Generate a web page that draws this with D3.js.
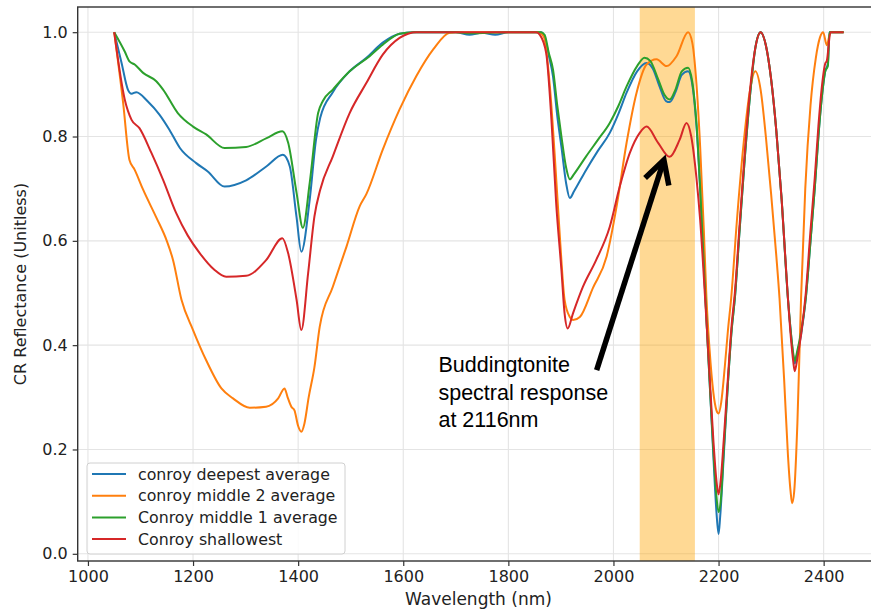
<!DOCTYPE html>
<html>
<head>
<meta charset="utf-8">
<script src="https://cdn.jsdelivr.net/npm/d3@7"></script>
<style>
html,body{margin:0;padding:0;background:#fff;}
svg{display:block;}
</style>
</head>
<body>
<svg id="chart" width="871" height="609"></svg>
<script>
// ---------- DATA ----------
const seriesNames = ["conroy deepest average", "conroy middle 2 average", "Conroy middle 1 average", "Conroy shallowest"];
const seriesColors = ["#1f77b4", "#ff7f0e", "#2ca02c", "#d62728"];

const deepestNm = [1050,1064,1076,1083,1092,1114,1136,1155,1175,1206,1228,1260,1301,1340,1371,1384,1397,1406,1422,1434,1442,1466,1498,1530,1561,1593,1620,1700,1726,1750,1775,1800,1862,1869,1877,1885,1893,1901,1910,1917,1925,1948,1970,1993,2010,2025,2045,2063,2075,2088,2100,2107,2118,2130,2142,2150,2158,2165,2175,2183,2190,2196,2200,2203,2210,2218,2225,2231,2240,2250,2260,2270,2280,2290,2300,2310,2320,2332,2338,2342,2345,2350,2357,2366,2375,2383,2390,2396,2403,2408,2411,2438];
const deepestR  = [1.0,0.941,0.890,0.882,0.885,0.867,0.842,0.813,0.778,0.749,0.733,0.704,0.716,0.743,0.765,0.743,0.645,0.579,0.679,0.794,0.836,0.885,0.925,0.951,0.980,0.997,1.0,1.0,0.995,0.999,0.995,1.0,1.0,0.99,0.955,0.915,0.84,0.78,0.71,0.682,0.695,0.736,0.772,0.807,0.845,0.884,0.925,0.941,0.93,0.895,0.868,0.866,0.885,0.918,0.925,0.90,0.82,0.70,0.49,0.33,0.19,0.08,0.038,0.07,0.19,0.33,0.43,0.49,0.62,0.76,0.88,0.97,1.0,0.975,0.91,0.81,0.68,0.49,0.42,0.38,0.365,0.385,0.42,0.49,0.60,0.70,0.80,0.87,0.925,0.94,1.0,1.0];

const middle2Nm = [1050,1067,1079,1089,1105,1130,1150,1162,1178,1200,1225,1254,1276,1308,1339,1362,1374,1380,1387,1393,1400,1406,1412,1420,1431,1441,1466,1492,1517,1530,1561,1593,1625,1657,1688,1700,1858,1868,1879,1888,1898,1907,1917,1923,1936,1961,1987,2006,2025,2044,2063,2082,2101,2120,2142,2150,2158,2165,2172,2177,2183,2190,2196,2200,2205,2212,2218,2224,2235,2248,2260,2270,2280,2290,2300,2310,2316,2325,2332,2337,2340,2344,2350,2357,2365,2375,2385,2393,2399,2406,2413,2438];
const middle2R  = [1.0,0.864,0.755,0.736,0.698,0.645,0.60,0.563,0.487,0.429,0.371,0.317,0.298,0.280,0.282,0.298,0.317,0.30,0.282,0.275,0.245,0.234,0.25,0.30,0.358,0.435,0.512,0.589,0.666,0.690,0.775,0.852,0.916,0.967,0.999,1.0,1.0,0.99,0.896,0.768,0.608,0.487,0.454,0.448,0.454,0.510,0.570,0.666,0.788,0.884,0.938,0.948,0.935,0.954,1.0,0.98,0.90,0.78,0.62,0.49,0.39,0.31,0.275,0.269,0.29,0.36,0.43,0.49,0.64,0.79,0.89,0.925,0.89,0.80,0.69,0.57,0.49,0.33,0.19,0.12,0.097,0.12,0.25,0.49,0.70,0.86,0.95,0.99,1.0,0.975,1.0,1.0];

const middle1Nm = [1050,1070,1079,1089,1105,1130,1143,1171,1200,1225,1260,1301,1340,1370,1381,1397,1409,1422,1438,1447,1466,1498,1536,1561,1593,1620,1700,1726,1800,1862,1869,1877,1885,1893,1901,1910,1917,1925,1948,1970,1993,2010,2025,2045,2059,2070,2085,2097,2107,2118,2130,2142,2150,2158,2165,2175,2183,2190,2196,2200,2204,2210,2218,2225,2231,2240,2250,2260,2270,2280,2290,2300,2310,2320,2332,2338,2342,2345,2350,2357,2366,2375,2383,2390,2396,2403,2408,2411,2438];
const middle1R  = [1.0,0.963,0.944,0.938,0.922,0.906,0.890,0.845,0.819,0.804,0.778,0.780,0.797,0.810,0.788,0.692,0.625,0.711,0.845,0.868,0.890,0.925,0.954,0.976,0.997,1.0,1.0,0.998,1.0,1.0,0.995,0.96,0.928,0.86,0.80,0.74,0.718,0.728,0.762,0.793,0.826,0.860,0.896,0.935,0.951,0.945,0.91,0.88,0.871,0.89,0.925,0.932,0.905,0.825,0.70,0.49,0.33,0.20,0.11,0.08,0.10,0.20,0.33,0.43,0.49,0.62,0.76,0.88,0.97,1.0,0.975,0.91,0.81,0.68,0.49,0.42,0.385,0.37,0.39,0.425,0.49,0.60,0.70,0.80,0.87,0.925,0.935,1.0,1.0];

const shallowNm = [1050,1070,1083,1098,1121,1143,1168,1190,1213,1240,1263,1301,1339,1370,1381,1397,1406,1419,1431,1442,1466,1498,1530,1561,1593,1625,1853,1860,1872,1882,1891,1901,1907,1913,1923,1942,1967,1993,2012,2031,2050,2063,2085,2107,2126,2139,2148,2158,2165,2175,2183,2190,2196,2200,2204,2210,2218,2225,2231,2240,2250,2260,2270,2280,2290,2300,2310,2320,2332,2338,2342,2345,2350,2357,2366,2375,2383,2390,2396,2403,2406,2413,2438];
const shallowR  = [1.0,0.871,0.832,0.816,0.768,0.717,0.653,0.61,0.576,0.545,0.531,0.533,0.563,0.605,0.576,0.487,0.429,0.538,0.647,0.698,0.762,0.845,0.903,0.957,0.989,1.0,1.0,0.995,0.96,0.832,0.672,0.544,0.461,0.432,0.461,0.512,0.563,0.627,0.704,0.768,0.807,0.819,0.788,0.761,0.794,0.826,0.80,0.72,0.64,0.48,0.34,0.22,0.14,0.114,0.14,0.22,0.34,0.44,0.50,0.63,0.77,0.89,0.97,1.0,0.975,0.91,0.81,0.68,0.49,0.41,0.37,0.35,0.375,0.42,0.50,0.62,0.72,0.82,0.89,0.94,0.945,1.0,1.0];

const xTicks = [1000, 1200, 1400, 1600, 1800, 2000, 2200, 2400];
const yTicks = [0.0, 0.2, 0.4, 0.6, 0.8, 1.0];
const bandRange = [2050, 2155];
const annotationLines = ["Buddingtonite", "spectral response", "at 2116nm"];
const annotationTextAt = [1667, 0.348];
const arrowTail = [1968, 0.352];
const arrowTip = [2096, 0.755];

// ---------- LAYOUT ----------
const svg = d3.select("#chart");
const plot = {left: 77.7, right: 881.2, top: 7, bottom: 561};
const x = d3.scaleLinear().domain([980.5, 2509.5]).range([plot.left, plot.right]);
const y = d3.scaleLinear().domain([-0.0138, 1.0483]).range([plot.bottom, plot.top]);
const font = "'DejaVu Sans', sans-serif";

// grid
const grid = svg.append("g");
grid.selectAll(".gx").data(xTicks).enter().append("line")
  .attr("x1", d => x(d)).attr("x2", d => x(d))
  .attr("y1", plot.top).attr("y2", plot.bottom)
  .attr("stroke", "#e4e4e4").attr("stroke-width", 1.1);
grid.selectAll(".gy").data(yTicks).enter().append("line")
  .attr("x1", plot.left).attr("x2", plot.right)
  .attr("y1", d => y(d)).attr("y2", d => y(d))
  .attr("stroke", "#e4e4e4").attr("stroke-width", 1.1);

// shaded band
svg.append("rect")
  .attr("x", x(bandRange[0])).attr("width", x(bandRange[1]) - x(bandRange[0]))
  .attr("y", plot.top).attr("height", plot.bottom - plot.top)
  .attr("fill", "#ffa500").attr("fill-opacity", 0.42);

// lines
const series = [
  {nm: deepestNm, r: deepestR},
  {nm: middle2Nm, r: middle2R},
  {nm: middle1Nm, r: middle1R},
  {nm: shallowNm, r: shallowR}
];
const line = d3.line().x(d => x(d[0])).y(d => y(d[1])).curve(d3.curveMonotoneX);
series.forEach((s, i) => {
  const pts = s.nm.map((n, k) => [n, s.r[k]]);
  svg.append("path").datum(pts)
    .attr("d", line)
    .attr("fill", "none")
    .attr("stroke", seriesColors[i])
    .attr("stroke-width", 2)
    .attr("stroke-linejoin", "round");
});

// axes
const xAxis = d3.axisBottom(x).tickValues(xTicks).tickSize(5).tickPadding(5).tickFormat(d3.format("d"));
const yAxis = d3.axisLeft(y).tickValues(yTicks).tickSize(5).tickPadding(5).tickFormat(d3.format(".1f"));
const gx = svg.append("g").attr("transform", `translate(0,${plot.bottom})`).call(xAxis);
const gy = svg.append("g").attr("transform", `translate(${plot.left},0)`).call(yAxis);
[gx, gy].forEach(g => {
  g.select(".domain").remove();
  g.selectAll(".tick line").attr("stroke", "#333").attr("stroke-width", 1.2);
  g.selectAll(".tick text").attr("fill", "#222").style("font-family", font).style("font-size", "16px");
});

// frame
svg.append("rect")
  .attr("x", plot.left).attr("y", plot.top)
  .attr("width", plot.right - plot.left).attr("height", plot.bottom - plot.top)
  .attr("fill", "none").attr("stroke", "#333").attr("stroke-width", 1.4);

// axis labels
svg.append("text").attr("x", (plot.left + plot.right) / 2 - 1).attr("y", 605)
  .attr("text-anchor", "middle").style("font-family", font).style("font-size", "17px").attr("fill", "#222")
  .text("Wavelength (nm)");
svg.append("text").attr("transform", `translate(26,${(plot.top + plot.bottom) / 2}) rotate(-90)`)
  .attr("text-anchor", "middle").style("font-family", font).style("font-size", "16px").attr("fill", "#222")
  .text("CR Reflectance (Unitless)");

// legend
const lg = svg.append("g").attr("transform", "translate(87,463)");
lg.append("rect").attr("width", 258).attr("height", 91).attr("rx", 3)
  .attr("fill", "#fff").attr("fill-opacity", 0.85).attr("stroke", "#d0d0d0");
seriesNames.forEach((name, i) => {
  const yy = 11 + i * 21.7;
  lg.append("line").attr("x1", 5).attr("x2", 39).attr("y1", yy).attr("y2", yy)
    .attr("stroke", seriesColors[i]).attr("stroke-width", 2);
  lg.append("text").attr("x", 51).attr("y", yy).attr("dy", "0.35em")
    .style("font-family", font).style("font-size", "15.8px").attr("fill", "#222").text(name);
});

// annotation
const ann = svg.append("text").style("font-family", "'Liberation Sans', Arial, sans-serif")
  .style("font-size", "21.5px").attr("fill", "#000");
annotationLines.forEach((t, i) => {
  ann.append("tspan").attr("x", x(annotationTextAt[0])).attr("y", y(annotationTextAt[1]) + i * 27.3).text(t);
});
const tx = x(arrowTip[0]), ty = y(arrowTip[1]);
const sx = x(arrowTail[0]), sy = y(arrowTail[1]);
const ang = Math.atan2(ty - sy, tx - sx);
const hl = 26, ha = 0.5;
svg.append("line").attr("x1", sx).attr("y1", sy).attr("x2", tx - 2 * Math.cos(ang)).attr("y2", ty - 2 * Math.sin(ang))
  .attr("stroke", "#000").attr("stroke-width", 5.5);
svg.append("path")
  .attr("d", `M${tx - hl * Math.cos(ang - ha)},${ty - hl * Math.sin(ang - ha)} L${tx},${ty} L${tx - hl * Math.cos(ang + ha)},${ty - hl * Math.sin(ang + ha)}`)
  .attr("fill", "none").attr("stroke", "#000").attr("stroke-width", 5.5).attr("stroke-linejoin", "miter");
</script>
</body>
</html>
